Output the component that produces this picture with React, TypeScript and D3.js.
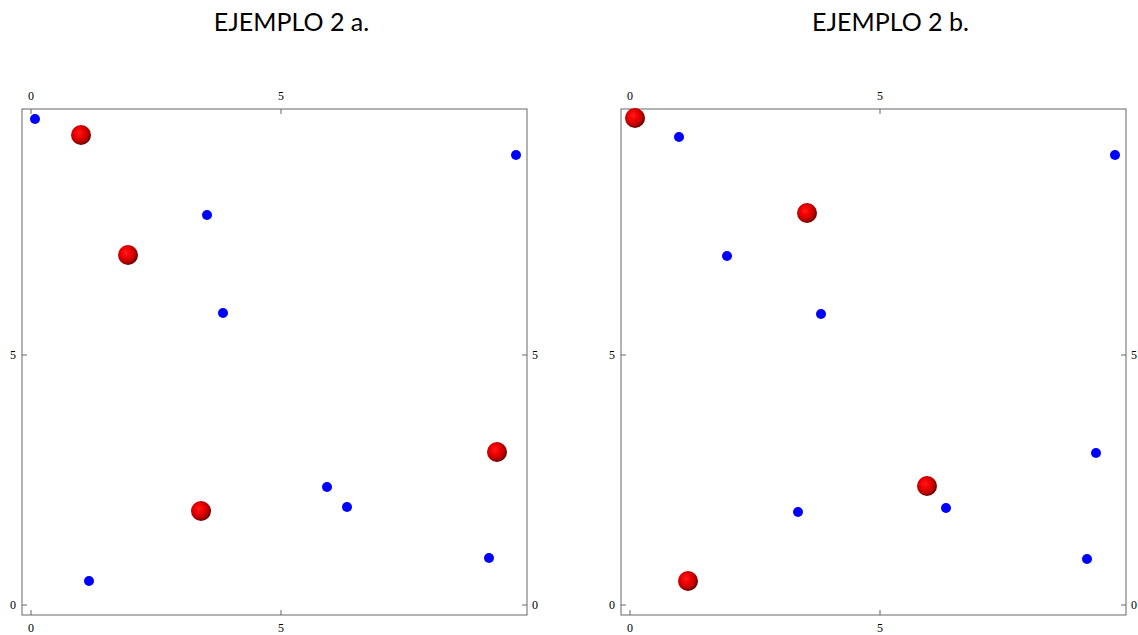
import React from "react";
import * as d3 from "d3";

const W = 1138;
const H = 635;

// panel a
const blueA: [number, number][] = [
  [0.08, 9.72], [9.7, 9.0], [3.52, 7.8], [3.84, 5.84],
  [5.92, 2.36], [6.32, 1.96], [9.16, 0.94], [1.16, 0.48],
];
const redA: [number, number][] = [
  [1.0, 9.4], [1.94, 7.0], [3.4, 1.88], [9.32, 3.06],
];
// panel b
const blueB: [number, number][] = [
  [0.98, 9.36], [9.7, 9.0], [1.94, 6.98], [3.82, 5.82],
  [9.32, 3.04], [3.36, 1.86], [6.32, 1.94], [9.14, 0.92],
];
const redB: [number, number][] = [
  [0.1, 9.74], [3.54, 7.84], [5.94, 2.38], [1.16, 0.48],
];
const ticks = [0, 5];
const titles = ["EJEMPLO 2 a.", "EJEMPLO 2 b."];

function Panel({ left, title, blue, red, id }: { left: number; title: string; blue: [number, number][]; red: [number, number][]; id: string }) {
  const x = d3.scaleLinear().domain([-0.18, 9.92]).range([left, left + 505]);
  const y = d3.scaleLinear().domain([-0.2, 9.92]).range([615, 109]);
  const [x0, x1] = x.range();
  const [y0, y1] = y.range();
  const stroke = "#666";
  const font = "'Liberation Serif', 'Times New Roman', serif";
  return (
    <g>
      <text x={(x0 + x1) / 2 + 17} y={31} textAnchor="middle" fontFamily="Lato, 'Open Sans', sans-serif" fontSize={25} fill="#000">{title}</text>
      <rect x={x0} y={y1} width={x1 - x0} height={y0 - y1} fill="none" stroke={stroke} strokeWidth={1} />
      {ticks.map((t) => (
        <g key={"t" + t}>
          <line x1={x(t)} x2={x(t)} y1={y1} y2={y1 + 5} stroke={stroke} />
          <line x1={x(t)} x2={x(t)} y1={y0} y2={y0 - 5} stroke={stroke} />
          <line x1={x0} x2={x0 + 5} y1={y(t)} y2={y(t)} stroke={stroke} />
          <line x1={x1} x2={x1 - 5} y1={y(t)} y2={y(t)} stroke={stroke} />
          <text x={x(t)} y={100} textAnchor="middle" fontFamily={font} fontSize={12}>{t}</text>
          <text x={x(t)} y={632} textAnchor="middle" fontFamily={font} fontSize={12}>{t}</text>
          <text x={x0 - 6} y={y(t) + 4} textAnchor="end" fontFamily={font} fontSize={12}>{t}</text>
          <text x={x1 + 5} y={y(t) + 4} textAnchor="start" fontFamily={font} fontSize={12}>{t}</text>
        </g>
      ))}
      {blue.map((p, i) => (
        <circle key={"b" + i} cx={x(p[0])} cy={y(p[1])} r={5} fill="#0000ff" />
      ))}
      {red.map((p, i) => (
        <circle key={"r" + i} cx={x(p[0])} cy={y(p[1])} r={10} fill={`url(#${id})`} />
      ))}
    </g>
  );
}

export default function App() {
  return (
    <svg width={W} height={H} style={{ position: "absolute", left: 0, top: 0, background: "#fff" }}>
      <defs>
        {["ga", "gb"].map((id) => (
          <radialGradient key={id} id={id} cx="0.42" cy="0.42" r="0.62" fx="0.4" fy="0.38">
            <stop offset="0%" stopColor="#ff1a1a" />
            <stop offset="40%" stopColor="#f00000" />
            <stop offset="75%" stopColor="#b00000" />
            <stop offset="100%" stopColor="#500000" />
          </radialGradient>
        ))}
      </defs>
      <Panel left={22} title={titles[0]} blue={blueA} red={redA} id="ga" />
      <Panel left={621} title={titles[1]} blue={blueB} red={redB} id="gb" />
    </svg>
  );
}
